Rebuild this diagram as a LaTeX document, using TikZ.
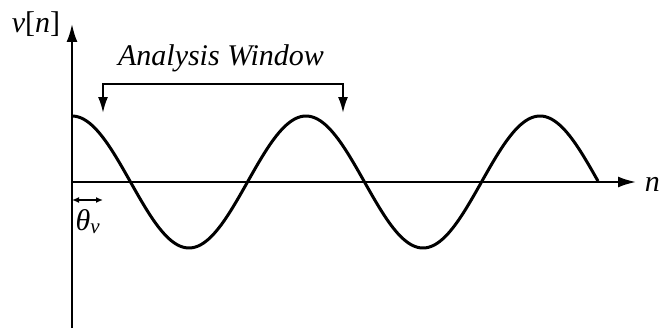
\documentclass[tikz,border=0pt]{standalone}
\usepackage{fontspec}
\setmainfont{Liberation Serif}
\usetikzlibrary{arrows.meta, positioning, calc}

\begin{document}
\begin{tikzpicture}[
    x=1pt, y=-1pt,
    axis/.style={line width=2pt, -{Latex[length=18pt, width=11pt]}},
    wave/.style={line width=3pt, line join=round},
    window/.style={line width=2pt, {Latex[length=16pt, width=10pt]}-{Latex[length=16pt, width=10pt]}},
    phasearrow/.style={line width=1.4pt, {Latex[length=7pt, width=6pt]}-{Latex[length=7pt, width=6pt]}},
    labeltext/.style={font=\fontsize{30}{34}\selectfont\itshape, inner sep=0pt}
]
    \useasboundingbox (0,0) rectangle (661,329);

    % Coordinates
    \coordinate (origin) at (72,182);
    \coordinate (ybot) at (72,328);
    \coordinate (ytop) at (72,24);
    \coordinate (xend) at (636,182);
    \coordinate (wbl) at (103,113);
    \coordinate (wtl) at (103,84);
    \coordinate (wtr) at (343,84);
    \coordinate (wbr) at (343,113);
    \coordinate (th1) at (72,200);
    \coordinate (th2) at (103,200);

    % Nodes
    \node[labeltext, anchor=base] (vlab) at (36,33) {v\textup{[}n\textup{]}};
    \node[labeltext, anchor=base east] (nlab) at (660,191) {n};
    \node[labeltext, anchor=base] (wlab) at (221,66) {Analysis Window};
    \node[labeltext, anchor=base] (thlab) at (88,230) {θ\textsubscript{v}};

    % Links
    \draw[axis] (ybot) -- (ytop);
    \draw[axis] (origin) -- (xend);
    \draw[window] (wbl) -- (wtl) -- (wtr) -- (wbr);
    \draw[phasearrow] (th1) -- (th2);

    % Signal
    \draw[wave] plot[domain=72:598, samples=240] (\x, {182-66*cos(1.538462*(\x-72))});
\end{tikzpicture}
\end{document}
